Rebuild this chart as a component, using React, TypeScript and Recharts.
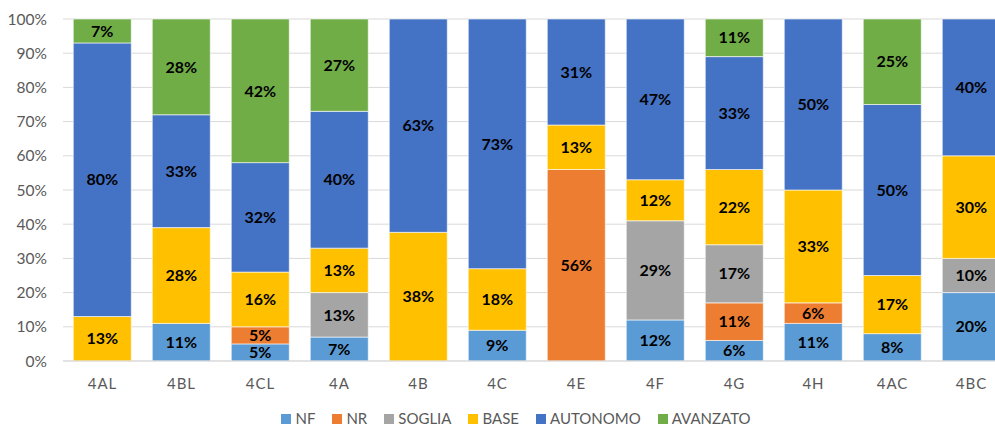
import React from "react";
import {
  BarChart,
  Bar,
  XAxis,
  YAxis,
  CartesianGrid,
  Legend,
  LabelList,
} from "recharts";

// classes on the x axis
const classes = ["4AL", "4BL", "4CL", "4A", "4B", "4C", "4E", "4F", "4G", "4H", "4AC", "4BC"];

// percentage of students per level, one array per level
const nf = [0, 11, 5, 7, 0, 9, 0, 12, 6, 11, 8, 20];
const nr = [0, 0, 5, 0, 0, 0, 56, 0, 11, 6, 0, 0];
const soglia = [0, 0, 0, 13, 0, 0, 0, 29, 17, 0, 0, 10];
const base = [13, 28, 16, 13, 38, 18, 13, 12, 22, 33, 17, 30];
const autonomo = [80, 33, 32, 40, 63, 73, 31, 47, 33, 50, 50, 40];
const avanzato = [7, 28, 42, 27, 0, 0, 0, 0, 11, 0, 25, 0];

const yTicks = [0, 0.1, 0.2, 0.3, 0.4, 0.5, 0.6, 0.7, 0.8, 0.9, 1];

const series = [
  { key: "NF", values: nf, color: "#5B9BD5" },
  { key: "NR", values: nr, color: "#ED7D31" },
  { key: "SOGLIA", values: soglia, color: "#A5A5A5" },
  { key: "BASE", values: base, color: "#FFC000" },
  { key: "AUTONOMO", values: autonomo, color: "#4472C4" },
  { key: "AVANZATO", values: avanzato, color: "#70AD47" },
];

const data = classes.map((name, i) => {
  const row: Record<string, any> = { name };
  series.forEach((s) => {
    row[s.key] = s.values[i];
  });
  return row;
});

const FONT = "Lato, 'Liberation Sans', sans-serif";

const renderLegend = () => (
  <div
    style={{
      display: "flex",
      justifyContent: "center",
      paddingTop: 6,
      fontFamily: FONT,
      fontSize: 15,
      lineHeight: "15px",
      color: "#595959",
    }}
  >
    {series.map((s) => (
      <div key={s.key} style={{ display: "flex", alignItems: "center", marginRight: 17 }}>
        <span
          style={{
            display: "inline-block",
            width: 10,
            height: 10,
            background: s.color,
            marginRight: 4,
          }}
        />
        <span>{s.key}</span>
      </div>
    ))}
  </div>
);

export default function App() {
  return (
    <div
      style={{
        position: "absolute",
        left: 0,
        top: 0,
        width: 995,
        height: 426,
        overflow: "hidden",
        background: "#fff",
      }}
    >
      <BarChart
        width={1032}
        height={426}
        data={data}
        stackOffset="expand"
        barCategoryGap="13%"
        margin={{ top: 19, right: 21, left: 0, bottom: 2 }}
      >
        <CartesianGrid vertical={false} stroke="#D9D9D9" />
        <XAxis
          dataKey="name"
          tickLine={false}
          axisLine={{ stroke: "#D9D9D9" }}
          tickSize={0}
          tickMargin={17}
          height={40}
          tick={{ fill: "#595959", fontSize: 15, fontFamily: FONT, letterSpacing: 1 }}
        />
        <YAxis
          width={63}
          domain={[0, 1]}
          ticks={yTicks}
          tickFormatter={(v: number) => `${Math.round(v * 100)}%`}
          axisLine={false}
          tickLine={false}
          tickSize={0}
          tickMargin={16}
          tick={{ fill: "#595959", fontSize: 15.5, fontFamily: FONT }}
        />
        <Legend
          verticalAlign="bottom"
          height={23}
          content={renderLegend}
          wrapperStyle={{ bottom: -2, left: 19, height: 23 }}
        />
        {series.map((s) => (
          <Bar
            key={s.key}
            dataKey={s.key}
            stackId="a"
            fill={s.color}
            stroke="#ffffff"
            strokeWidth={0.6}
            isAnimationActive={false}
          >
            <LabelList
              dataKey={s.key}
              position="center"
              fill="#000"
              fontSize={16}
              fontWeight="bold"
              fontFamily={FONT}
              formatter={(v: any) => (typeof v === "number" && v > 0 ? `${v}%` : "")}
            />
          </Bar>
        ))}
      </BarChart>
    </div>
  );
}
